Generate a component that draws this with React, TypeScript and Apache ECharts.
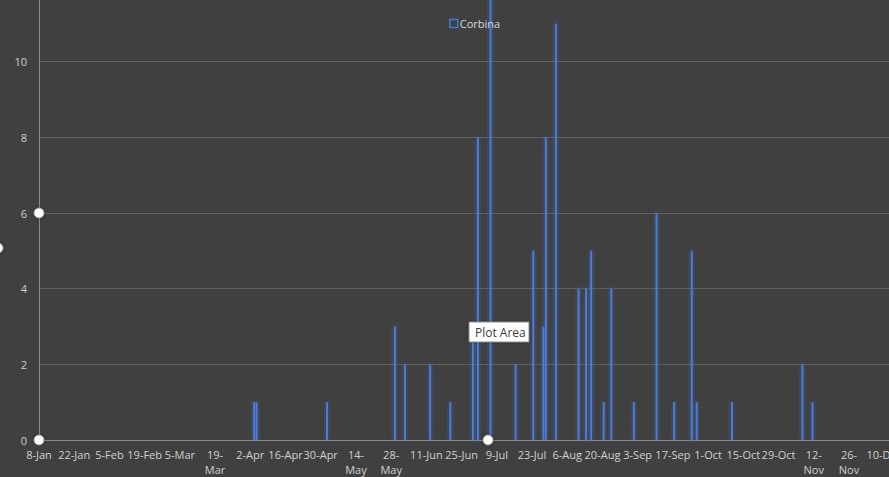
import React, { useEffect, useRef } from "react";
import * as echarts from "echarts";

// ---- data ----
const seriesName = "Corbina";
const axisStartDate = "2018-01-08";
const axisEndDate = "2018-12-31";
const monthNames = ["Jan", "Feb", "Mar", "Apr", "May", "Jun", "Jul", "Aug", "Sep", "Oct", "Nov", "Dec"];
const dates = [
  "2018-04-03", "2018-04-04", "2018-05-02", "2018-05-29", "2018-06-02", "2018-06-12",
  "2018-06-20", "2018-06-29", "2018-07-01", "2018-07-06", "2018-07-16", "2018-07-23",
  "2018-07-27", "2018-07-28", "2018-08-01", "2018-08-10", "2018-08-13", "2018-08-15",
  "2018-08-20", "2018-08-23", "2018-09-01", "2018-09-10", "2018-09-17", "2018-09-24",
  "2018-09-26", "2018-10-10", "2018-11-07", "2018-11-11",
];
const counts = [
  1, 1, 1, 3, 2, 2,
  1, 3, 8, 12, 2, 5,
  3, 8, 11, 4, 4, 5,
  1, 4, 1, 6, 1, 5,
  1, 1, 2, 1,
];
const yMin = 0;
const yMax = 12;
const yStep = 2;
const xStepDays = 14;

const DAY = 86400000;
const toMs = (s: string) => {
  const [y, m, d] = s.split("-").map(Number);
  return Date.UTC(y, m - 1, d);
};
const startMs = toMs(axisStartDate);
const dayIndex = (s: string) => Math.round((toMs(s) - startMs) / DAY);
const xMaxDays = dayIndex(axisEndDate);

const LABEL_FONT = "11px 'Open Sans'";
let measureCtx: CanvasRenderingContext2D | null = null;
const measure = (t: string) => {
  if (!measureCtx) measureCtx = document.createElement("canvas").getContext("2d");
  if (!measureCtx) return 0;
  measureCtx.font = LABEL_FONT;
  return measureCtx.measureText(t).width;
};

export default function App() {
  const ref = useRef<HTMLDivElement>(null);
  useEffect(() => {
    if (!ref.current) return;
    const chart = echarts.init(ref.current, null, { renderer: "svg" });
    const slotPx = 36.2;
    const barData = dates.map((d, i) => [dayIndex(d) + 0.5, counts[i]]);
    const handle = (x: number, y: number) => ({
      type: "circle",
      z: 100,
      shape: { cx: x, cy: y, r: 5 },
      style: { fill: "#ffffff", stroke: "#9a9a9a", lineWidth: 1, shadowBlur: 3, shadowColor: "rgba(0,0,0,0.5)" },
    });
    chart.setOption({
      animation: false,
      backgroundColor: "#404040",
      textStyle: { fontFamily: "'Open Sans', sans-serif" },
      grid: { left: 39, top: 0, width: 898, height: 454, containLabel: false, outerBoundsMode: "none" },
      legend: {
        show: true,
        left: 444,
        top: 27,
        itemWidth: 8,
        itemHeight: 8,
        icon: "rect",
        itemStyle: { color: "transparent", borderColor: "#4677D6", borderWidth: 1.5 },
        textStyle: { color: "#d9d9d9", fontSize: 11, fontFamily: "'Open Sans', sans-serif", padding: [0, 0, 0, -3] },
        data: [seriesName],
      },
      xAxis: {
        type: "value",
        min: 0,
        max: xMaxDays,
        interval: xStepDays,
        axisLine: { show: true, lineStyle: { color: "#8a8a8a", width: 1 } },
        axisTick: { show: false },
        splitLine: { show: false },
        axisLabel: {
          color: "#d0d0d0",
          fontSize: 11,
          fontFamily: "'Open Sans', sans-serif",
          margin: 7,
          lineHeight: 15,
          formatter: (v: number) => {
            if (v % xStepDays !== 0) return "";
            const dt = new Date(startMs + v * DAY);
            const txt = `${dt.getUTCDate()}-${monthNames[dt.getUTCMonth()]}`;
            if (measure(txt) > slotPx) {
              const k = txt.indexOf("-");
              return txt.slice(0, k + 1) + "\n" + txt.slice(k + 1);
            }
            return txt;
          },
        },
      },
      yAxis: {
        type: "value",
        min: yMin,
        max: yMax,
        interval: yStep,
        axisLine: { show: true, lineStyle: { color: "#8a8a8a", width: 1 } },
        axisTick: { show: false },
        splitLine: { show: true, lineStyle: { color: "#5e5e5e", width: 1 } },
        axisLabel: { color: "#d0d0d0", fontSize: 11, margin: 12, showMaxLabel: false, fontFamily: "'Open Sans', sans-serif" },
      },
      series: [
        {
          name: seriesName,
          type: "bar",
          z: 2,
          data: barData,
          barWidth: 2,
          itemStyle: {
            color: "#4a7bdc",
            shadowBlur: 8,
            shadowColor: "rgba(70,119,214,0.85)",
          },
        },
      ],
      graphic: [
        handle(39, 227),
        handle(39, 454),
        handle(488, 454),
        handle(-2, 262),
        {
          type: "rect",
          z: 110,
          shape: { x: 469, y: 336, width: 60, height: 20 },
          style: { fill: "#ffffff", stroke: "#8a8a8a", lineWidth: 1, shadowBlur: 3, shadowColor: "rgba(0,0,0,0.4)" },
        },
        {
          type: "text",
          z: 111,
          x: 475,
          y: 346,
          style: {
            text: "Plot Area",
            fill: "#3c3c3c",
            font: "12px 'Open Sans', sans-serif",
            verticalAlign: "middle",
          },
        },
      ],
    });
    return () => chart.dispose();
  }, []);
  return (
    <div style={{ position: "fixed", left: 0, top: 0, width: 889, height: 477, overflow: "hidden", background: "#404040" }}>
      <div ref={ref} style={{ position: "absolute", left: 0, top: -14, width: 1000, height: 520 }} />
    </div>
  );
}
